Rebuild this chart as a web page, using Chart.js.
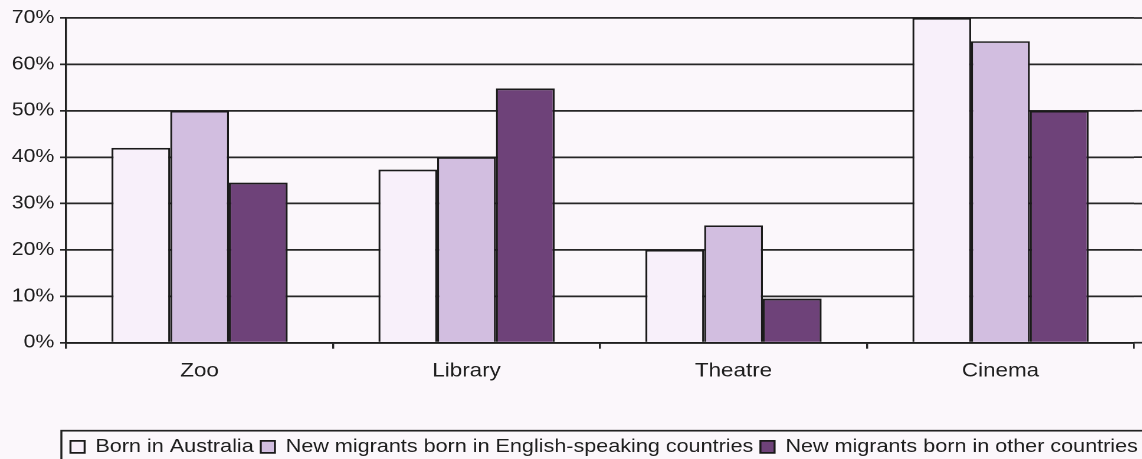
<!DOCTYPE html>
<html>
<head>
<meta charset="utf-8">
<script src="https://cdn.jsdelivr.net/npm/chart.js@4.4.1/dist/chart.umd.min.js"></script>
<style>
  html, body { margin: 0; padding: 0; background: #FBF7FB; overflow: hidden; }
  #wrap { width: 1142px; height: 459px; overflow: hidden; }
  #c { transform: scaleX(1.18); transform-origin: 0 0; display: block; }
</style>
</head>
<body>
<div id="wrap"><canvas id="c" width="975" height="470"></canvas></div>
<script>
const categories = ["Zoo", "Library", "Theatre", "Cinema"];
const seriesNames = [
  "Born in Australia",
  "New migrants born in English-speaking countries",
  "New migrants born in other countries"
];
const bornAustralia = [42, 37.3, 20, 70];
const englishSpeaking = [50, 40, 25.3, 65];
const otherCountries = [34.5, 54.8, 9.5, 50];
const yTicks = [0, 10, 20, 30, 40, 50, 60, 70];

const fills = ["#F8F0FA", "#D2BEE0", "#6E4279"];
const font = "'Liberation Sans', Arial, sans-serif";

const bgPlugin = {
  id: "bg",
  beforeDraw(chart) {
    const ctx = chart.ctx;
    ctx.save();
    ctx.fillStyle = "#FBF7FB";
    ctx.fillRect(0, 0, chart.width, chart.height);
    ctx.restore();
  }
};

const FRAME_LEFT = 52;

const extrasPlugin = {
  id: "extras",
  afterLayout(chart) {
    // let the legend span the framed box so it is centred within it
    const lg = chart.legend;
    lg.left = FRAME_LEFT;
    lg.right = chart.width - 3;
    lg.width = lg.right - lg.left;
  },
  afterDraw(chart) {
    const ctx = chart.ctx;
    const area = chart.chartArea;
    const y = chart.scales.y;
    ctx.save();
    // extend horizontal gridlines to the right edge
    ctx.strokeStyle = "#262626";
    ctx.lineWidth = 1.7;
    yTicks.forEach(v => {
      const py = y.getPixelForValue(v);
      ctx.beginPath();
      ctx.moveTo(area.right, py);
      ctx.lineTo(chart.width, py);
      ctx.stroke();
    });
    // legend frame
    const lg = chart.legend;
    ctx.strokeStyle = "#222";
    ctx.lineWidth = 1.7;
    ctx.strokeRect(FRAME_LEFT, lg.top - 1, chart.width, chart.height);
    ctx.restore();
  }
};

new Chart(document.getElementById("c"), {
  type: "bar",
  data: {
    labels: categories,
    datasets: [
      { label: seriesNames[0], data: bornAustralia, backgroundColor: fills[0], borderColor: "#1a1a1a", borderWidth: 1.7 },
      { label: seriesNames[1], data: englishSpeaking, backgroundColor: fills[1], borderColor: "#1a1a1a", borderWidth: 1.7 },
      { label: seriesNames[2], data: otherCountries, backgroundColor: fills[2], borderColor: "#1a1a1a", borderWidth: 1.7 }
    ]
  },
  options: {
    responsive: false,
    animation: false,
    devicePixelRatio: 2,
    layout: { padding: { top: 18, right: 14, left: 0, bottom: 4 } },
    datasets: { bar: { categoryPercentage: 0.66, barPercentage: 1.0 } },
    plugins: {
      tooltip: { enabled: false },
      legend: {
        position: "bottom",
        align: "center",
        labels: {
          boxWidth: 12,
          boxHeight: 12,
          padding: 6,
          color: "#1e1e1e",
          font: { family: font, size: 18.3 }
        }
      }
    },
    scales: {
      y: {
        min: 0,
        max: 70,
        afterBuildTicks(scale) { scale.ticks = yTicks.map(v => ({ value: v })); },
        afterFit(scale) { scale.width = 56; },
        ticks: {
          callback: v => v + "%",
          color: "#1e1e1e",
          padding: 5,
          font: { family: font, size: 18 }
        },
        grid: { color: "#262626", lineWidth: 1.7, tickLength: 5 },
        border: { color: "#1e1e1e", width: 1.7 }
      },
      x: {
        afterFit(scale) { scale.height = 89; },
        ticks: {
          color: "#1e1e1e",
          padding: 11,
          font: { family: font, size: 19 }
        },
        grid: { offset: true, drawOnChartArea: false, drawTicks: true, tickLength: 6, color: "#262626", lineWidth: 1.7 },
        border: { color: "#1e1e1e", width: 1.7 }
      }
    }
  },
  plugins: [bgPlugin, extrasPlugin]
});
</script>
</body>
</html>
